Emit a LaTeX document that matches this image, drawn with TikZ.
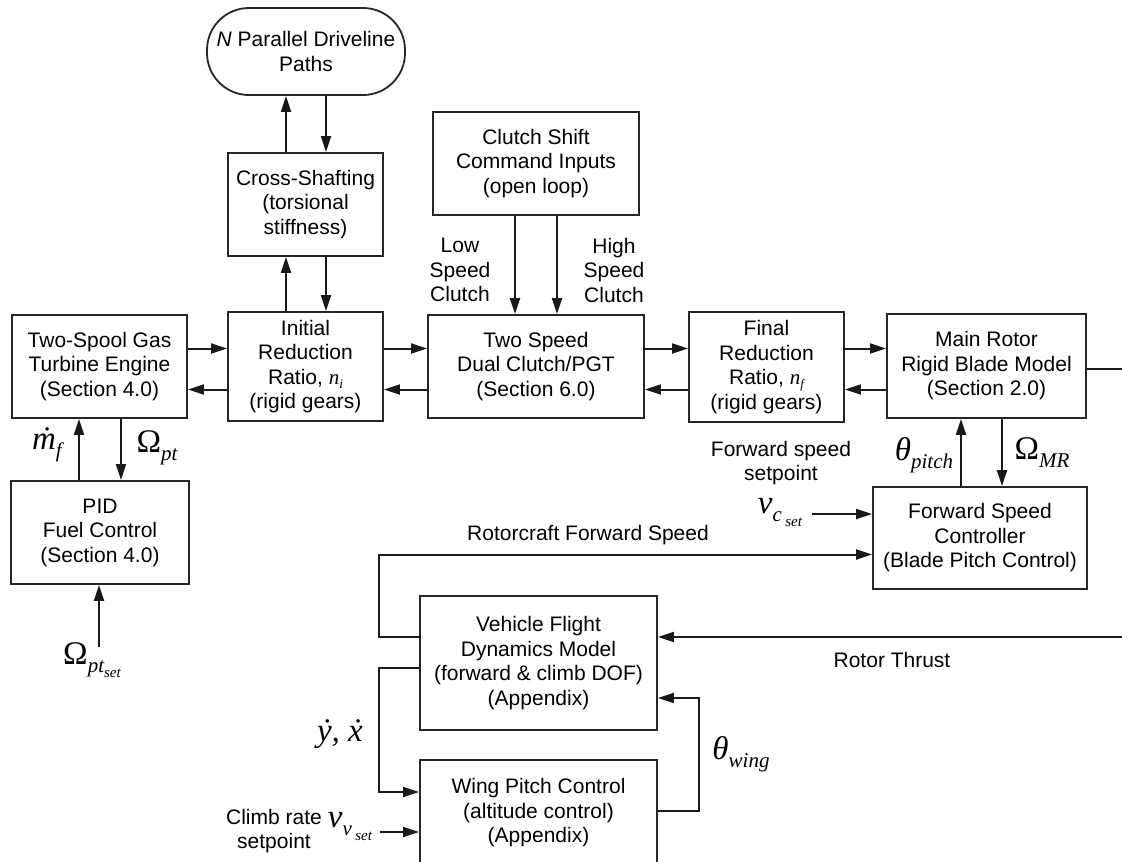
\documentclass[tikz,border=0pt]{standalone}
\usepackage{fontspec}
\setmainfont{Liberation Sans}
\newfontfamily\tnr{Liberation Serif}
\usetikzlibrary{arrows.meta}
\newcommand\mybig[1]{{\tnr\fontsize{33}{33}\selectfont #1}}
\newcommand\mysub[1]{\raisebox{-8pt}{\tnr\itshape\fontsize{21}{21}\selectfont #1}}
\newcommand\mysubsub[1]{\raisebox{-5pt}{\tnr\itshape\fontsize{15}{15}\selectfont #1}}
\newcommand\mydot[2][0pt]{\ooalign{#2\cr\hidewidth\kern#1\char"02D9\hidewidth\cr}}
\newcommand\boxsub[2]{{\tnr\itshape\fontsize{21}{21}\selectfont #1\raisebox{-4pt}{\fontsize{13}{13}\selectfont #2}}}
\begin{document}
\begin{tikzpicture}[x=1pt,y=-1pt,
  box/.style={draw=black!85, line width=1.8pt, align=center, inner sep=0pt,
    font=\fontsize{21}{24.5}\selectfont},
  lbl/.style={align=center, inner sep=0pt, font=\fontsize{21}{24.5}\selectfont},
  arr/.style={-{Triangle[length=16pt,width=10pt]}, line width=2pt, draw=black!90},
  wire/.style={line width=2pt, draw=black!90}]
\clip (0,0) rectangle (1122,862);
\fill[white] (0,0) rectangle (1122,862);

% boxes
\node[box, rounded corners=42pt, minimum width=198pt, minimum height=87pt] (npar) at (306,51.5)
  {\textit{N} Parallel Driveline\\Paths};
\node[box, minimum width=155pt, minimum height=103pt] (cross) at (305.5,204.5)
  {Cross-Shafting\\(torsional\\stiffness)};
\node[box, minimum width=206pt, minimum height=103pt] (clutch) at (536,163.5)
  {Clutch Shift\\Command Inputs\\(open loop)};
\node[box, minimum width=175pt, minimum height=103pt] (engine) at (99.5,366.5)
  {Two-Spool Gas\\Turbine Engine\\(Section 4.0)};
\node[box, minimum width=155pt, minimum height=109pt] (init) at (305.5,366.5)
  {Initial\\Reduction\\Ratio, \boxsub{n}{i}\\(rigid gears)};
\node[box, minimum width=216pt, minimum height=103pt] (two) at (536,366.5)
  {Two Speed\\Dual Clutch/PGT\\(Section 6.0)};
\node[box, minimum width=155pt, minimum height=110pt] (final) at (766.5,367)
  {Final\\Reduction\\Ratio, \boxsub{n}{f}\\(rigid gears)};
\node[box, minimum width=199pt, minimum height=104pt] (main) at (986.5,366)
  {Main Rotor\\Rigid Blade Model\\(Section 2.0)};
\node[box, minimum width=178pt, minimum height=103pt] (pid) at (100,532.5)
  {PID\\Fuel Control\\(Section 4.0)};
\node[box, minimum width=214pt, minimum height=102pt] (fsc) at (980,538)
  {Forward Speed\\Controller\\(Blade Pitch Control)};
\node[box, minimum width=237pt, minimum height=134pt] (veh) at (538.5,663)
  {Vehicle Flight\\Dynamics Model\\(forward \& climb DOF)\\(Appendix)};
\node[box, minimum width=237pt, minimum height=106pt] (wing) at (538.5,813)
  {Wing Pitch Control\\(altitude control)\\(Appendix)};

% helper coordinates
\coordinate (x286) at (286,0); \coordinate (x326) at (326,0);
\coordinate (x515) at (515,0); \coordinate (x557) at (557,0);
\coordinate (x79) at (79,0);   \coordinate (x121) at (121,0);
\coordinate (x961) at (961,0); \coordinate (x1001) at (1002,0);
\coordinate (x379) at (379,0); \coordinate (x699) at (699,0);
\coordinate (ya) at (0,348.5); \coordinate (yb) at (0,389.5);
\coordinate (y554) at (0,554.5); \coordinate (y636) at (0,636.5);
\coordinate (y668) at (0,668); \coordinate (y792) at (0,792);
\coordinate (y811) at (0,811); \coordinate (y698) at (0,698);
\coordinate (mr) at (1122,369);
\coordinate (ptset) at (99,647);
\coordinate (vcs) at (812,514);
\coordinate (rt) at (1122,637);
\coordinate (vvs) at (380,832);

% vertical connectors
\draw[arr] (cross.north -| x286) -- (npar.south -| x286);
\draw[arr] (npar.south -| x326) -- (cross.north -| x326);
\draw[arr] (init.north -| x286) -- (cross.south -| x286);
\draw[arr] (cross.south -| x326) -- (init.north -| x326);
\draw[arr] (clutch.south -| x515) -- (two.north -| x515);
\draw[arr] (clutch.south -| x557) -- (two.north -| x557);
\draw[arr] (pid.north -| x79) -- (engine.south -| x79);
\draw[arr] (engine.south -| x121) -- (pid.north -| x121);
\draw[arr] (ptset) -- (pid.south -| ptset);
\draw[arr] (fsc.north -| x961) -- (main.south -| x961);
\draw[arr] (main.south -| x1001) -- (fsc.north -| x1001);

% horizontal connectors
\draw[arr] (engine.east |- ya) -- (init.west |- ya);
\draw[arr] (init.west |- yb) -- (engine.east |- yb);
\draw[arr] (init.east |- ya) -- (two.west |- ya);
\draw[arr] (two.west |- yb) -- (init.east |- yb);
\draw[arr] (two.east |- ya) -- (final.west |- ya);
\draw[arr] (final.west |- yb) -- (two.east |- yb);
\draw[arr] (final.east |- ya) -- (main.west |- ya);
\draw[arr] (main.west |- yb) -- (final.east |- yb);
\draw[wire] (main.east |- mr) -- (mr);
\draw[arr] (vcs) -- (fsc.west |- vcs);
\draw[arr] (veh.west |- y636) -| (x379 |- y554) -- (fsc.west |- y554);
\draw[arr] (rt) -- (veh.east |- rt);
\draw[arr] (veh.west |- y668) -| (x379 |- y792) -- (wing.west |- y792);
\draw[arr] (vvs) -- (wing.west |- vvs);
\draw[arr] (wing.east |- y811) -| (x699 |- y698) -- (veh.east |- y698);

% labels
\node[lbl] (low) at (460,270) {Low\\Speed\\Clutch};
\node[lbl] (high) at (614,270) {High\\Speed\\Clutch};
\node[lbl] (mf) at (47,448) {\mybig{\itshape\mydot[2pt]{m}}\mysub{f}};
\node[lbl] (opt) at (157,448) {\mybig{Ω}\mysub{pt}};
\node[lbl] (optset) at (92,660) {\mybig{Ω}\mysub{pt\mysubsub{set}}};
\node[lbl] (fss) at (781,463) {Forward speed\\setpoint};
\node[lbl] (vc) at (780,512) {\mybig{\itshape v}\mysub{c\,\mysubsub{set}}};
\node[lbl] (thp) at (924,455) {\mybig{\itshape θ}\mysub{pitch}};
\node[lbl] (omr) at (1042,453) {\mybig{Ω}\mysub{MR}};
\node[lbl] (rfs) at (588,535) {Rotorcraft Forward Speed};
\node[lbl] (rthr) at (892,660) {Rotor Thrust};
\node[lbl] (yx) at (340,736) {\mybig{\itshape\mydot[2pt]{y}, \mydot[1pt]{x}}};
\node[lbl] (crs) at (274,831) {Climb rate\\setpoint};
\node[lbl] (vv) at (350,826) {\mybig{\itshape v}\mysub{v\,\mysubsub{set}}};
\node[lbl] (thw) at (741,754) {\mybig{\itshape θ}\mysub{wing}};
\end{tikzpicture}
\end{document}
